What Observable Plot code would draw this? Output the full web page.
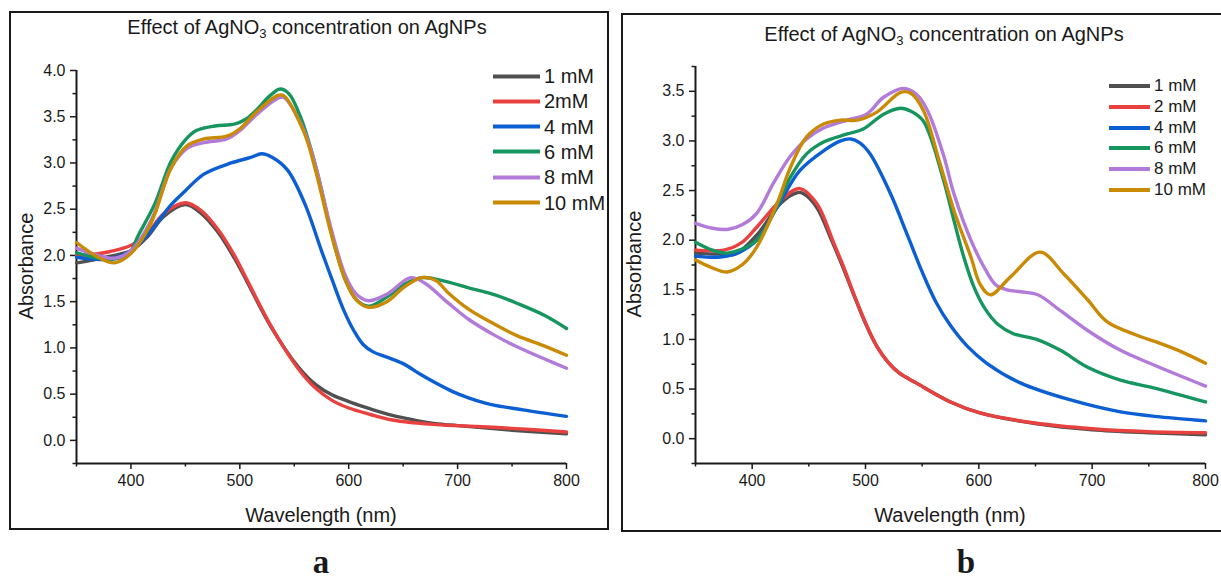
<!DOCTYPE html>
<html>
<head>
<meta charset="utf-8">
<script src="https://cdn.jsdelivr.net/npm/d3@7"></script>
<script src="https://cdn.jsdelivr.net/npm/@observablehq/plot@0.6"></script>
<style>
  html, body { margin: 0; padding: 0; background: #fff; }
  #root { position: relative; width: 1221px; height: 582px; overflow: hidden; background: #fff;
          font-family: "Liberation Sans", Arial, sans-serif; color: #1a1a1a; }
  .abs { position: absolute; white-space: nowrap; }
  .frame { position: absolute; border: 2px solid #1a1a1a; box-sizing: border-box; }
  .c { transform: translate(-50%, -50%); }
  .title { font-size: 20px; }
  .title sub { font-size: 13px; vertical-align: -4px; line-height: 0; }
  .axlab { font-size: 20px; }
  .letter { font-family: "Liberation Serif", "Times New Roman", serif; font-weight: bold; font-size: 33px; line-height: 1; }
  .leg { position: absolute; display: flex; align-items: center; }
  .leg .sw { display: inline-block; height: 4px; }
</style>
</head>
<body>
<div id="root"></div>
<script>
// ---------- data ----------
const seriesLabelsA = ["1 mM", "2mM", "4 mM", "6 mM", "8 mM", "10 mM"];
const seriesLabelsB = ["1 mM", "2 mM", "4 mM", "6 mM", "8 mM", "10 mM"];
const seriesColors = ["#505050", "#e8413f", "#0c5fd2", "#17955f", "#b27ad9", "#c98a05"];

const titleText = "Effect of AgNO";
const xLabel = "Wavelength (nm)";
const yLabel = "Absorbance";
const xTicks = [400, 500, 600, 700, 800];
const xMinorTicks = [350, 450, 550, 650, 750];
const yTicksA = [0, 0.5, 1.0, 1.5, 2.0, 2.5, 3.0, 3.5, 4.0];
const yMinorTicksA = [-0.25, 0.25, 0.75, 1.25, 1.75, 2.25, 2.75, 3.25, 3.75];
const yTicksB = [0, 0.5, 1.0, 1.5, 2.0, 2.5, 3.0, 3.5];
const yMinorTicksB = [-0.25, 0.25, 0.75, 1.25, 1.75, 2.25, 2.75, 3.25, 3.75];

// panel a: [wavelength nm, absorbance]
const a_1mM = [[350,1.92],[365,1.95],[380,1.99],[400,2.05],[415,2.2],[430,2.42],[450,2.55],[465,2.45],[480,2.25],[495,1.97],[506,1.73],[529,1.22],[554,0.79],[570,0.6],[585,0.49],[600,0.42],[620,0.34],[640,0.27],[660,0.22],[680,0.18],[700,0.16],[750,0.11],[800,0.07]];
const a_2mM = [[350,2.0],[365,2.01],[380,2.04],[400,2.11],[415,2.24],[430,2.45],[450,2.57],[465,2.48],[480,2.28],[495,2.0],[506,1.75],[529,1.23],[554,0.77],[570,0.56],[585,0.43],[600,0.35],[620,0.28],[640,0.22],[660,0.19],[680,0.17],[700,0.16],[750,0.13],[800,0.09]];
const a_4mM = [[350,1.98],[365,1.96],[380,1.96],[400,2.05],[415,2.22],[437,2.55],[450,2.7],[467,2.88],[492,3.0],[510,3.06],[520,3.1],[530,3.06],[544,2.92],[560,2.55],[575,2.05],[585,1.73],[595,1.42],[605,1.18],[613,1.04],[622,0.96],[635,0.9],[650,0.83],[665,0.72],[680,0.62],[695,0.53],[710,0.46],[730,0.39],[760,0.33],[800,0.26]];
const a_6mM = [[350,2.03],[370,1.97],[385,1.96],[400,2.05],[406,2.2],[422,2.56],[437,3.02],[450,3.25],[460,3.35],[477,3.4],[495,3.42],[505,3.47],[515,3.57],[527,3.72],[537,3.8],[545,3.75],[556,3.49],[570,2.95],[585,2.2],[597,1.73],[607,1.52],[618,1.45],[635,1.55],[650,1.68],[667,1.76],[685,1.73],[710,1.65],[735,1.57],[755,1.48],[780,1.35],[800,1.21]];
const a_8mM = [[350,2.08],[370,2.0],[385,1.97],[400,2.05],[415,2.3],[422,2.47],[437,2.95],[452,3.16],[467,3.22],[488,3.26],[500,3.35],[516,3.53],[535,3.7],[540,3.71],[559,3.35],[570,2.95],[584,2.28],[597,1.78],[607,1.58],[618,1.51],[635,1.58],[657,1.76],[670,1.7],[691,1.49],[710,1.31],[735,1.13],[755,1.01],[780,0.88],[800,0.78]];
const a_10mM = [[350,2.14],[370,1.98],[385,1.92],[400,2.02],[415,2.27],[422,2.45],[437,2.95],[452,3.19],[467,3.26],[488,3.29],[500,3.37],[516,3.56],[535,3.73],[540,3.73],[559,3.33],[570,2.9],[584,2.23],[597,1.73],[607,1.52],[618,1.44],[635,1.5],[650,1.65],[667,1.76],[680,1.73],[691,1.6],[710,1.42],[735,1.25],[755,1.13],[780,1.02],[800,0.92]];

// panel b
const b_1mM = [[350,1.87],[370,1.86],[385,1.86],[404,2.05],[425,2.37],[440,2.48],[445,2.47],[457,2.33],[470,2.0],[480,1.73],[490,1.44],[500,1.16],[510,0.93],[520,0.77],[530,0.66],[545,0.56],[575,0.37],[601,0.26],[651,0.15],[700,0.09],[750,0.06],[800,0.04]];
const b_2mM = [[350,1.9],[375,1.9],[390,1.97],[404,2.13],[425,2.4],[442,2.52],[457,2.37],[472,1.97],[480,1.75],[490,1.45],[500,1.17],[510,0.93],[520,0.77],[530,0.66],[545,0.56],[575,0.37],[601,0.26],[651,0.155],[700,0.1],[750,0.07],[800,0.06]];
const b_4mM = [[350,1.84],[372,1.83],[389,1.88],[404,2.0],[422,2.33],[442,2.7],[463,2.9],[478,3.0],[487,3.02],[495,2.98],[504,2.87],[522,2.47],[537,2.05],[550,1.68],[562,1.38],[575,1.14],[590,0.93],[607,0.76],[637,0.56],[681,0.39],[725,0.27],[760,0.22],[800,0.18]];
const b_6mM = [[350,1.98],[365,1.9],[378,1.87],[404,2.0],[422,2.35],[434,2.64],[448,2.87],[463,2.99],[484,3.07],[498,3.12],[516,3.27],[531,3.33],[540,3.3],[551,3.2],[569,2.6],[578,2.2],[587,1.82],[596,1.52],[606,1.3],[617,1.15],[630,1.06],[651,1.0],[672,0.89],[696,0.72],[725,0.59],[755,0.51],[800,0.37]];
const b_8mM = [[350,2.17],[365,2.12],[379,2.11],[392,2.16],[404,2.27],[419,2.58],[434,2.85],[448,3.02],[463,3.13],[484,3.21],[501,3.27],[516,3.44],[534,3.53],[545,3.47],[555,3.3],[569,2.85],[578,2.47],[593,2.0],[607,1.68],[615,1.55],[625,1.5],[637,1.48],[652,1.45],[672,1.29],[696,1.09],[725,0.89],[755,0.74],[800,0.53]];
const b_10mM = [[350,1.8],[365,1.72],[378,1.68],[392,1.76],[404,1.93],[422,2.37],[434,2.74],[448,3.04],[463,3.17],[478,3.21],[493,3.21],[510,3.29],[531,3.49],[540,3.48],[551,3.31],[565,2.8],[578,2.3],[593,1.83],[601,1.56],[610,1.45],[628,1.63],[654,1.88],[675,1.66],[696,1.4],[713,1.18],[740,1.04],[760,0.96],[780,0.87],[800,0.76]];

const panelA = [a_1mM, a_2mM, a_4mM, a_6mM, a_8mM, a_10mM];
const panelB = [b_1mM, b_2mM, b_4mM, b_6mM, b_8mM, b_10mM];

// ---------- rendering ----------
const root = document.getElementById("root");

function addEl(html, cls, left, top, extraStyle) {
  const d = document.createElement("div");
  d.className = "abs " + (cls || "");
  d.style.left = left + "px";
  d.style.top = top + "px";
  if (extraStyle) Object.assign(d.style, extraStyle);
  d.innerHTML = html;
  root.appendChild(d);
  return d;
}

function makePanel(cfg) {
  const rows = [];
  cfg.series.forEach((s, i) => s.forEach(([wl, ab]) => rows.push({series: cfg.labels[i], wl, ab})));
  const chart = Plot.plot({
    width: cfg.width,
    height: cfg.height,
    marginLeft: cfg.ml, marginRight: cfg.mr, marginTop: cfg.mt, marginBottom: cfg.mb,
    x: {domain: [350, 800], axis: null},
    y: {domain: cfg.yDomain, axis: null},
    color: {domain: cfg.labels, range: seriesColors},
    style: {background: "transparent", overflow: "visible", color: "#1a1a1a",
            fontFamily: "'Liberation Sans', Arial, sans-serif"},
    marks: [
      Plot.axisX(xTicks, {tickSize: 6, tickPadding: 5, fontSize: 16, strokeWidth: 1.5, label: null}),
      Plot.axisX(xMinorTicks, {tickSize: 3.5, tickFormat: () => "", strokeWidth: 1.5, label: null}),
      Plot.axisY(cfg.yTicks, {tickSize: 6, tickPadding: 5, fontSize: 16, strokeWidth: 1.5, tickFormat: d3.format(".1f"), label: null}),
      Plot.axisY(cfg.yMinor, {tickSize: 3.5, tickFormat: () => "", strokeWidth: 1.5, label: null}),
      Plot.ruleX([350], {strokeWidth: 2}),
      Plot.ruleY([cfg.yDomain[0]], {strokeWidth: 2}),
      Plot.line(rows, {x: "wl", y: "ab", z: "series", stroke: "series", strokeWidth: 3.4, curve: "catmull-rom"})
    ]
  });
  chart.style.position = "absolute";
  chart.style.left = cfg.left + "px";
  chart.style.top = cfg.top + "px";
  root.appendChild(chart);

  addEl("", "frame", cfg.frame[0], cfg.frame[1], {width: cfg.frame[2] + "px", height: cfg.frame[3] + "px"});
  addEl(titleText + "<sub>3</sub> concentration on AgNPs", "title c", cfg.titleXY[0], cfg.titleXY[1]);
  addEl(xLabel, "axlab c", cfg.xlabXY[0], cfg.xlabXY[1]);
  addEl(yLabel, "axlab", cfg.ylabXY[0], cfg.ylabXY[1], {transform: "translate(-50%,-50%) rotate(-90deg)"});
  cfg.labels.forEach((lab, i) => {
    addEl(
      `<span class="sw" style="width:${cfg.leg.sw}px;background:${seriesColors[i]}"></span>` +
      `<span style="margin-left:${cfg.leg.gap}px">${lab}</span>`,
      "leg", cfg.leg.x, cfg.leg.y0 + i * cfg.leg.dy,
      {fontSize: cfg.leg.fs + "px", transform: "translateY(-50%)"});
  });
  addEl(cfg.letter, "letter c", cfg.letterXY[0], cfg.letterXY[1]);
}

makePanel({
  series: panelA, labels: seriesLabelsA,
  width: 598, height: 517, left: 10, top: 12,
  ml: 66, mr: 42, mt: 58, mb: 66,
  yDomain: [-0.25, 4.0], yTicks: yTicksA, yMinor: yMinorTicksA,
  frame: [9, 11, 600, 519],
  titleXY: [307, 27], xlabXY: [321, 515], ylabXY: [26, 266],
  leg: {x: 493, y0: 76, dy: 25.3, sw: 47, gap: 4, fs: 20},
  letter: "a", letterXY: [321, 562]
});

makePanel({
  series: panelB, labels: seriesLabelsB,
  width: 599, height: 517, left: 622, top: 14,
  ml: 73, mr: 16, mt: 52, mb: 68,
  yDomain: [-0.25, 3.75], yTicks: yTicksB, yMinor: yMinorTicksB,
  frame: [621, 13, 640, 519],
  titleXY: [944, 34], xlabXY: [950, 515], ylabXY: [634, 264],
  leg: {x: 1109, y0: 86, dy: 20.8, sw: 41, gap: 4, fs: 17},
  letter: "b", letterXY: [966, 562]
});
</script>
</body>
</html>
